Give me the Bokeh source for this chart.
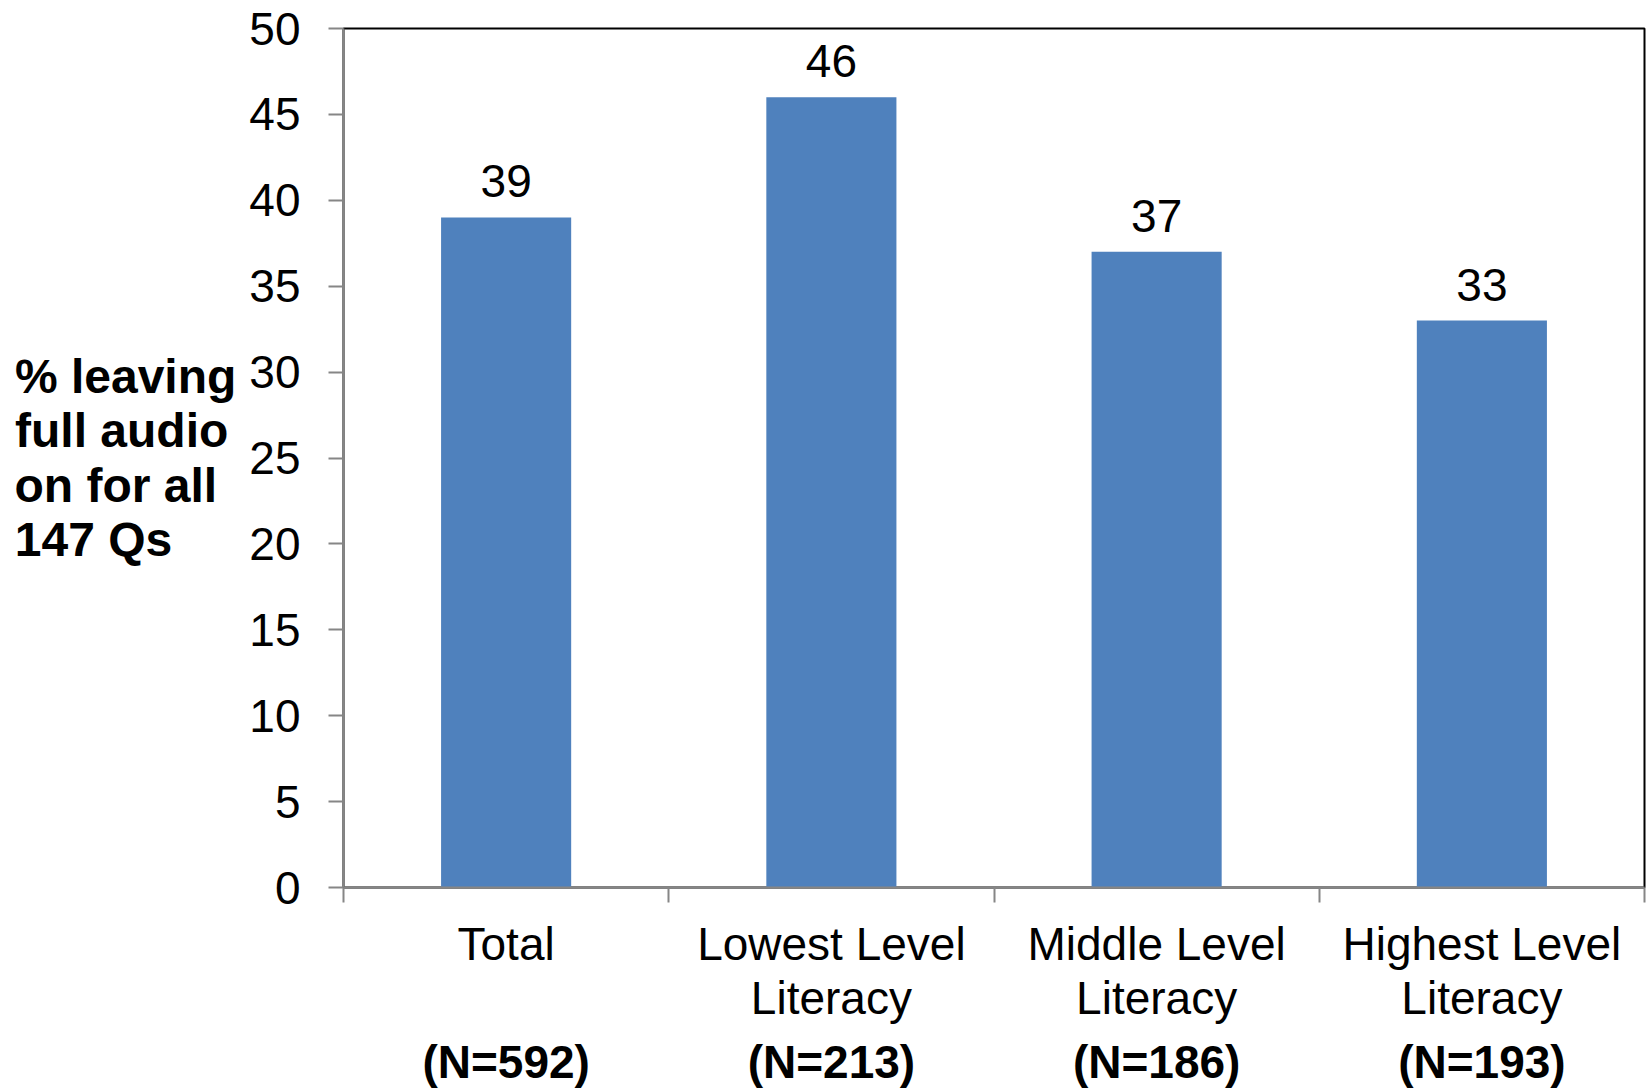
from bokeh.plotting import figure
from bokeh.models import ColumnDataSource, FixedTicker, LinearAxis, Range1d
from bokeh.embed import file_html
from bokeh.resources import INLINE
from bokeh.core.properties import value

categories = ["Total", "Lowest Level\nLiteracy", "Middle Level\nLiteracy", "Highest Level\nLiteracy"]
n_labels = ["(N=592)", "(N=213)", "(N=186)", "(N=193)"]
values = [39, 46, 37, 33]
y_ticks = [0, 5, 10, 15, 20, 25, 30, 35, 40, 45, 50]
y_title_lines = ["% leaving", "full audio", "on for all", "147 Qs"]

# em-fraction spaces pad the shorter lines so the right-aligned block reads as left-aligned
pads = ["", "\u2006", "\u2009\u2009", "\u2003\u2004"]
y_title = "\n".join(t + pad for t, pad in zip(y_title_lines, pads))

W, H = 1650, 1090
LEFT, RIGHT, TOP, BOTTOM = 343, 6, 28, 203

FONT = "Liberation Sans"
FS = "46px"
GRAY = "#868686"

p = figure(width=W, height=H, output_backend="svg", toolbar_location=None,
           x_range=Range1d(0, len(values)), y_range=Range1d(0, 50),
           min_border_left=LEFT, min_border_right=RIGHT,
           min_border_top=TOP, min_border_bottom=BOTTOM)
p.xgrid.visible = False
p.ygrid.visible = False
p.outline_line_color = "black"
p.outline_line_width = 2
p.background_fill_color = "white"
p.border_fill_color = "white"

xs = [i + 0.5 for i in range(len(values))]
src = ColumnDataSource(dict(x=xs, top=values, lbl=[str(v) for v in values]))
p.vbar(x="x", top="top", bottom=0, width=0.4, source=src,
       fill_color="#4F81BD", line_color=None)

p.text(x="x", y="top", text="lbl", source=src, text_align="center",
       text_baseline="middle", y_offset=-36, text_font=value(FONT),
       text_font_size=FS, text_color="black")

# y axis
yax = p.yaxis[0]
yax.ticker = FixedTicker(ticks=y_ticks)
yax.axis_line_color = GRAY
yax.axis_line_width = 2
yax.major_tick_line_color = GRAY
yax.major_tick_line_width = 2
yax.major_tick_out = 15
yax.major_tick_in = 0
yax.minor_tick_line_color = None
yax.major_label_text_font = FONT
yax.major_label_text_font_size = FS
yax.major_label_text_color = "black"
yax.major_label_standoff = 28
yax.axis_label = y_title
yax.axis_label_orientation = "horizontal"
yax.axis_label_text_font = FONT
yax.axis_label_text_font_size = "48px"
yax.axis_label_text_font_style = "bold"
yax.axis_label_text_color = "black"
yax.axis_label_text_line_height = 1.026
yax.axis_label_standoff = 10

# x axis: category boundary ticks
xax = p.xaxis[0]
xax.ticker = FixedTicker(ticks=list(range(len(values) + 1)))
xax.major_label_overrides = {i: "" for i in range(len(values) + 1)}
xax.major_label_text_font_size = "1px"
xax.major_label_standoff = 0
xax.axis_line_color = GRAY
xax.axis_line_width = 2
xax.major_tick_line_color = GRAY
xax.major_tick_line_width = 2
xax.major_tick_out = 15
xax.major_tick_in = 0
xax.minor_tick_line_color = None

# category names
cat_ax = LinearAxis(ticker=FixedTicker(ticks=xs),
                    major_label_overrides={x: c for x, c in zip(xs, categories)})
cat_ax.axis_line_color = None
cat_ax.major_tick_line_color = None
cat_ax.minor_tick_line_color = None
cat_ax.major_label_text_font = FONT
cat_ax.major_label_text_font_size = FS
cat_ax.major_label_text_color = "black"
cat_ax.major_label_text_line_height = 1.05
cat_ax.major_label_standoff = 9
p.add_layout(cat_ax, "below")

# sample sizes
n_ax = LinearAxis(ticker=FixedTicker(ticks=xs),
                  major_label_overrides={x: n for x, n in zip(xs, n_labels)})
n_ax.axis_line_color = None
n_ax.major_tick_line_color = None
n_ax.minor_tick_line_color = None
n_ax.major_label_text_font = FONT
n_ax.major_label_text_font_size = FS
n_ax.major_label_text_font_style = "bold"
n_ax.major_label_text_color = "black"
n_ax.major_label_text_line_height = 1.0
n_ax.major_label_standoff = 2
p.add_layout(n_ax, "below")

open("out.html", "w").write(file_html(p, INLINE))
